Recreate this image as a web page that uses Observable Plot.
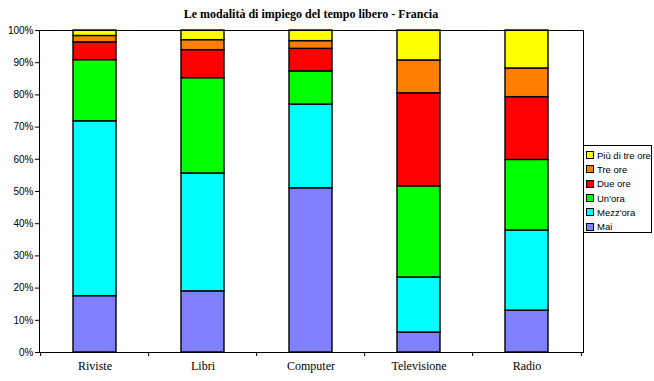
<!DOCTYPE html>
<html>
<head>
<meta charset="utf-8">
<script src="https://cdn.jsdelivr.net/npm/d3@7"></script>
<script src="https://cdn.jsdelivr.net/npm/@observablehq/plot@0.6"></script>
<style>
  html, body { margin: 0; padding: 0; background: #fff; }
  #wrap { position: relative; width: 654px; height: 381px; overflow: hidden; }
  #title { height: 22px; box-sizing: border-box; padding-top: 8px; padding-right: 32px; text-align: center;
    font: bold 12px "Liberation Serif", "Times New Roman", serif; line-height: 13px; color: #000; }
  #legend { position: absolute; left: 583px; top: 145px; width: 69px; height: 88px; box-sizing: border-box;
    border: 1px solid #000; background: #fff; padding-top: 2px; }
  .item { height: 14.3px; display: flex; align-items: center; font: 9.5px "Liberation Sans", Arial, sans-serif; color: #000; white-space: nowrap; }
  .sw { width: 6px; height: 6px; border: 1px solid #000; margin: 0 3px 0 2px; flex: none; }
</style>
</head>
<body>
<div id="wrap">
  <div id="title"></div>
  <div id="chart"></div>
  <div id="legend"></div>
</div>
<script>
const titleText = "Le modalità di impiego del tempo libero - Francia";
const categories = ["Riviste", "Libri", "Computer", "Televisione", "Radio"];
const seriesNames = ["Mai", "Mezz'ora", "Un'ora", "Due ore", "Tre ore", "Più di tre ore"];
const seriesColors = ["#8080ff", "#00ffff", "#00ff00", "#ff0000", "#ff8000", "#ffff00"];
const mai      = [17.5, 19.0, 51.0,  6.2, 13.0];
const mezzora  = [54.3, 36.6, 26.0, 17.1, 24.9];
const unora    = [19.0, 29.6, 10.3, 28.3, 21.9];
const dueOre   = [ 5.5,  8.7,  7.0, 28.9, 19.5];
const treOre   = [ 2.0,  3.1,  2.4, 10.2,  8.9];
const piuDiTre = [ 1.7,  3.0,  3.3,  9.3, 11.8];
const yTicks = [0, 0.1, 0.2, 0.3, 0.4, 0.5, 0.6, 0.7, 0.8, 0.9, 1];

const seriesValues = [mai, mezzora, unora, dueOre, treOre, piuDiTre];
const data = [];
seriesNames.forEach((s, si) => categories.forEach((c, ci) => data.push({cat: c, serie: s, value: seriesValues[si][ci]})));

document.getElementById("title").textContent = titleText;

const W = 654, H = 359, mL = 39, mR = 71, mT = 8, mB = 29;
const step = (W - mL - mR) / categories.length;
const plotH = H - mT - mB;

const chart = Plot.plot({
  width: W, height: H,
  marginLeft: mL, marginRight: mR, marginTop: mT, marginBottom: mB,
  style: {background: "#fff", color: "#000", overflow: "visible"},
  x: {domain: categories, paddingInner: 0.6, paddingOuter: 0.3, label: null},
  y: {domain: [0, 1], label: null},
  color: {domain: seriesNames, range: seriesColors},
  marks: [
    Plot.barY(data, Plot.stackY({x: "cat", y: "value", fill: "serie", order: seriesNames, offset: "normalize", stroke: "#000", strokeWidth: 1.4})),
    Plot.frame({stroke: "#000", strokeWidth: 1}),
    Plot.axisY({ticks: yTicks, tickFormat: d => Math.round(d * 100) + "%", tickSize: 4, tickPadding: 2,
      fontFamily: "'Liberation Sans', Arial, sans-serif", fontSize: 10, label: null}),
    Plot.axisX({tickSize: 0, tickPadding: 9, fontFamily: "'Liberation Serif', 'Times New Roman', serif", fontSize: 12, label: null}),
    Plot.ruleX(categories, {x: d => d, dx: -step / 2, stroke: "#000", insetTop: plotH, insetBottom: -4}),
    Plot.ruleX(categories.slice(-1), {x: d => d, dx: step / 2, stroke: "#000", insetTop: plotH, insetBottom: -4})
  ]
});
document.getElementById("chart").appendChild(chart);

const legend = document.getElementById("legend");
seriesNames.slice().reverse().forEach((s) => {
  const i = seriesNames.indexOf(s);
  const it = document.createElement("div");
  it.className = "item";
  const sw = document.createElement("span");
  sw.className = "sw";
  sw.style.background = seriesColors[i];
  it.appendChild(sw);
  it.appendChild(document.createTextNode(s));
  legend.appendChild(it);
});
</script>
</body>
</html>
